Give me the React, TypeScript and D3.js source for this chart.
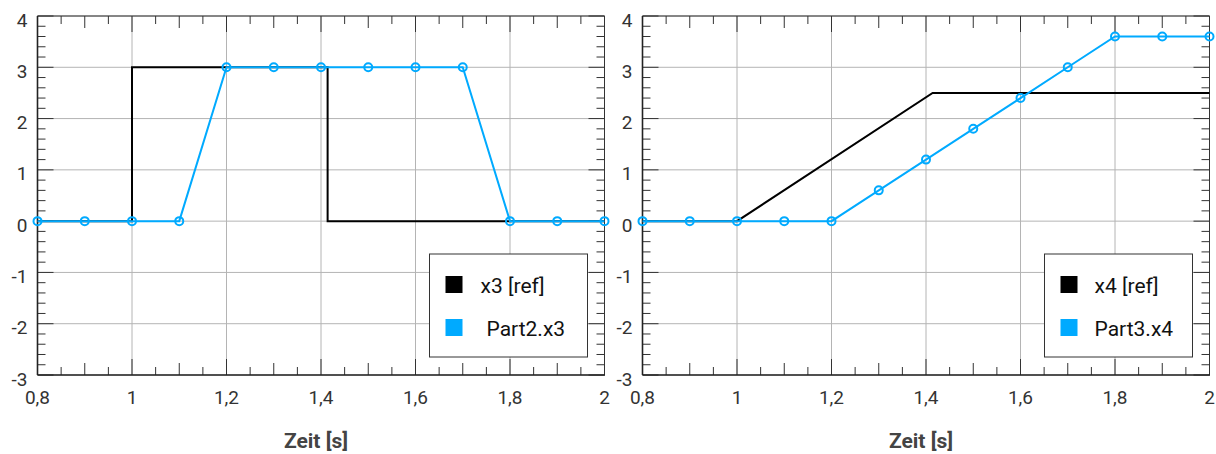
import React from "react";
import * as d3 from "d3";

// sample times of the simulated signals
const timeGrid = [0.8, 0.9, 1.0, 1.1, 1.2, 1.3, 1.4, 1.5, 1.6, 1.7, 1.8, 1.9, 2.0];
const part2X3 = [0, 0, 0, 0, 3, 3, 3, 3, 3, 3, 0, 0, 0];
const part3X4 = [0, 0, 0, 0, 0, 0.6, 1.2, 1.8, 2.4, 3.0, 3.6, 3.6, 3.6];

// reference signals
const x3RefTime = [0.8, 1.0, 1.0, 1.414, 1.414, 2.0];
const x3RefValue = [0, 0, 3, 3, 0, 0];
const x4RefTime = [0.8, 1.0, 1.414, 2.0];
const x4RefValue = [0, 0, 2.5, 2.5];

const xTicks = [0.8, 1.0, 1.2, 1.4, 1.6, 1.8, 2.0];
const xTickLabels = ["0,8", "1", "1,2", "1,4", "1,6", "1,8", "2"];
const yTicks = [-3, -2, -1, 0, 1, 2, 3, 4];
const yTickLabels = ["-3", "-2", "-1", "0", "1", "2", "3", "4"];

const BLUE = "#00aaff";
const FONT = "Roboto, 'DejaVu Sans', sans-serif";

type PanelProps = {
  x0: number;
  refT: number[];
  refV: number[];
  simV: number[];
  refLabel: string;
  simLabel: string;
  legendW: number;
  text1X: number;
  text2X: number;
};

function Panel(props: PanelProps) {
  const { x0, refT, refV, simV, refLabel, simLabel, legendW, text1X, text2X } = props;
  const plotW = 567;
  const top = 16;
  const bottom = 375;
  const x1 = x0 + plotW;

  const x = d3.scaleLinear().domain([0.8, 2.0]).range([x0, x1]);
  const y = d3.scaleLinear().domain([-3, 4]).range([bottom, top]);

  const line = d3
    .line<[number, number]>()
    .x(d => x(d[0]))
    .y(d => y(d[1]));

  const refPts: [number, number][] = refT.map((t, i) => [t, refV[i]]);
  const simPts: [number, number][] = timeGrid.map((t, i) => [t, simV[i]]);

  // minor ticks
  const xMinor = d3.range(0, 25).map(i => 0.8 + i * 0.05);
  const yMinor = d3.range(0, 36).map(i => -3 + i * 0.2);

  const tickLen = (v: number) => {
    const k = Math.round(v * 100) % 20;
    if (k === 0) return 16;
    if (k === 10) return 12;
    return 8;
  };
  const isMajorY = (v: number) => Math.abs(v - Math.round(v)) < 1e-6;

  const lgX = x1 - 17 - legendW;
  const lgY = 254;

  return (
    <g>
      {/* grid */}
      {xTicks.map(t => (
        <line key={"gx" + t} x1={x(t)} x2={x(t)} y1={top} y2={bottom} stroke="#b4b4b4" strokeWidth={1} />
      ))}
      {yTicks.map(t => (
        <line key={"gy" + t} x1={x0} x2={x1} y1={y(t)} y2={y(t)} stroke="#b4b4b4" strokeWidth={1} />
      ))}

      {/* x ticks, bottom and top */}
      {xMinor.map((t, i) => (
        <g key={"tx" + i}>
          <line x1={x(t)} x2={x(t)} y1={bottom} y2={bottom - tickLen(t)} stroke="#333" strokeWidth={1} />
          <line x1={x(t)} x2={x(t)} y1={top} y2={top + tickLen(t)} stroke="#333" strokeWidth={1} />
        </g>
      ))}
      {/* y ticks, left and right */}
      {yMinor.map((t, i) => {
        const len = isMajorY(t) ? 16 : 8;
        return (
          <g key={"ty" + i}>
            <line x1={x0} x2={x0 + len} y1={y(t)} y2={y(t)} stroke="#333" strokeWidth={1} />
            <line x1={x1} x2={x1 - len} y1={y(t)} y2={y(t)} stroke="#333" strokeWidth={1} />
          </g>
        );
      })}

      {/* frame */}
      <line x1={x0} x2={x1} y1={top} y2={top} stroke="#333" strokeWidth={1} />
      <line x1={x1} x2={x1} y1={top} y2={bottom} stroke="#333" strokeWidth={1} />
      <line x1={x0} x2={x1 + 0.5} y1={bottom} y2={bottom} stroke="#222" strokeWidth={1.6} />
      <line x1={x0} x2={x0} y1={top} y2={bottom} stroke="#222" strokeWidth={1.6} />

      {/* tick labels */}
      {yTicks.map((t, i) => (
        <text key={"ly" + t} x={x0 - 10} y={y(t) + 10.5} textAnchor="end" fontSize={19} fill="#333" fontFamily={FONT}>
          {yTickLabels[i]}
        </text>
      ))}
      {xTicks.map((t, i) => (
        <text key={"lx" + t} x={x(t)} y={404} textAnchor="middle" fontSize={19} fill="#333" fontFamily={FONT}>
          {xTickLabels[i]}
        </text>
      ))}
      <text x={(x0 + x1) / 2 - 5} y={448} textAnchor="middle" fontSize={21} fontWeight="bold" fill="#444" fontFamily={FONT}>
        Zeit [s]
      </text>

      {/* series */}
      <path d={line(refPts) ?? ""} fill="none" stroke="#000" strokeWidth={2} />
      <path d={line(simPts) ?? ""} fill="none" stroke={BLUE} strokeWidth={2} />
      {simPts.map((p, i) => (
        <circle key={"m" + i} cx={x(p[0])} cy={y(p[1])} r={4} fill="none" stroke={BLUE} strokeWidth={2} />
      ))}

      {/* legend */}
      <rect x={lgX} y={lgY} width={legendW} height={103} fill="#fff" stroke="#333" strokeWidth={1} />
      <rect x={lgX + 16} y={lgY + 22} width={17} height={17} fill="#000" />
      <rect x={lgX + 16} y={lgY + 65} width={17} height={17} fill={BLUE} />
      <text x={lgX + text1X} y={lgY + 38.5} fontSize={21} fill="#111" fontFamily={FONT}>
        {refLabel}
      </text>
      <text x={lgX + text2X} y={lgY + 81.5} fontSize={21} fill="#111" fontFamily={FONT}>
        {simLabel}
      </text>
    </g>
  );
}

export default function App() {
  return (
    <svg
      width={1216}
      height={454}
      style={{ position: "absolute", left: 0, top: 0, background: "#fff" }}
    >
      <rect width={1216} height={454} fill="#fff" />
      <Panel
        x0={37.5}
        refT={x3RefTime}
        refV={x3RefValue}
        simV={part2X3}
        refLabel="x3 [ref]"
        simLabel="Part2.x3"
        legendW={158}
        text1X={51}
        text2X={57}
      />
      <Panel
        x0={642.5}
        refT={x4RefTime}
        refV={x4RefValue}
        simV={part3X4}
        refLabel="x4 [ref]"
        simLabel="Part3.x4"
        legendW={148}
        text1X={50}
        text2X={50}
      />
    </svg>
  );
}
